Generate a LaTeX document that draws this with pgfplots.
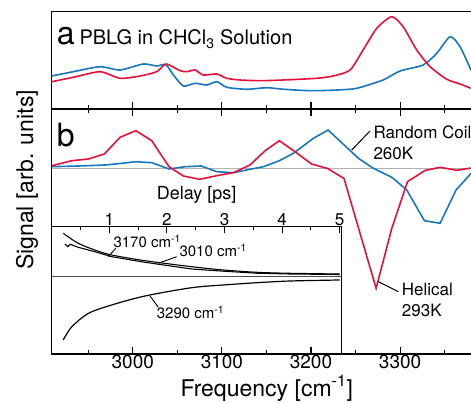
\documentclass[border=0pt]{standalone}
\usepackage{fontspec}
\setmainfont{TeX Gyre Heros}
\usepackage{pgfplots}
\pgfplotsset{compat=1.18}
\definecolor{cred}{RGB}{226,18,58}
\definecolor{cblue}{RGB}{24,119,190}
\newcommand\fs[1]{\fontsize{#1}{#1}\selectfont}

\pgfplotsset{
  panel/.style={scale only axis, width=437.5pt, xmin=2909, xmax=3400, anchor=south west,
    axis line style={line width=1.4pt}, tick style={line width=1.2pt, black},
    major tick length=7pt, minor tick length=4pt, tick align=inside,
    xtick={3000,3100,3200,3300}, minor xtick={2950,3050,...,3350},
    ytick=\empty, /pgf/number format/assume math mode=true,
    /pgf/number format/1000 sep={}, tick label style={font=\fs{19}}},
  spec/.style={line width=1.6pt, no marks},
}

\begin{document}
\begin{tikzpicture}
% panel a: absorption
\begin{axis}[panel, at={(51.7pt,293pt)}, height=97.3pt, ymin=0, ymax=97.3,
  xtick pos=left, xticklabels=\empty]
\addplot[spec, cblue, smooth, tension=0.4] coordinates {
 (2909.1,33) (2933.3,37.3) (2963.3,42.3) (2985.7,39) (3011.9,45) (3026.9,43)
 (3037,44.5) (3045.6,34) (3056.8,23) (3069.9,25.7) (3083.1,24) (3094.3,27.3)
 (3105.5,21.7) (3127.9,19.7) (3150.4,21.3) (3169.7,19.7) (3199,18.3) (3230,19)
 (3251.4,20.7) (3280.9,29) (3300,38) (3325.8,44) (3341.2,55.7) (3356.1,72.3)
 (3367.3,62.3) (3379.7,39) (3392,20)};
\addplot[spec, cred, smooth, tension=0.4] coordinates {
 (2909.1,27.3) (2933.3,31.7) (2963.3,37.3) (2985.7,30.7) (3008.2,33) (3026.9,37.3)
 (3037.4,45) (3053.1,38.3) (3060.6,37.3) (3069.9,39) (3078.9,34) (3094.3,35)
 (3105.5,30.7) (3120.4,29) (3142.9,28.3) (3168.7,29) (3206.5,30.7) (3224.8,33)
 (3243.9,39) (3258.5,59) (3273.8,80.7) (3290.7,92.3) (3303.4,82.3) (3318.7,59)
 (3333.7,42.3) (3352.4,29.7) (3367.3,25) (3379.7,20.7) (3392,17)};
\end{axis}

% inset: kinetics
\begin{axis}[scale only axis, at={(51.7pt,48pt)}, anchor=south west,
  width=290pt, height=127.3pt, xmin=0, xmax=5.035, ymin=-78, ymax=49.3,
  axis line style={line width=1.4pt}, tick style={line width=1.1pt, black},
  major tick length=6pt, minor tick length=3.5pt, tick align=inside,
  xtick={1,2,3,4,5}, minor xtick={0.5,1.5,...,4.5},
  xtick pos=right, xticklabel pos=right, ytick=\empty,
  /pgf/number format/assume math mode=true,
  xticklabel style={font=\fs{17}, inner sep=1pt}]
\addplot[no marks, black!70, line width=0.7pt] coordinates {(0,0) (5.035,0)};
\addplot[no marks, black, line width=1.1pt, smooth, tension=0.5] coordinates {
 (0.20,42.7) (0.46,32.7) (0.75,26) (1.04,21) (1.62,15.3) (2.43,9.3)
 (2.98,6) (3.56,3.7) (4.14,2.7) (5.0,2)};
\addplot[no marks, black, line width=1.1pt] coordinates {
 (0.23,32) (0.28,29.3) (0.32,31.7) (0.46,28.7) (0.75,24.3) (1.04,19.3)
 (1.62,13.7) (2.43,7) (2.98,4.8) (3.56,2.8) (4.14,2) (5.0,1.5)};
\addplot[no marks, black, line width=1.2pt, smooth, tension=0.5] coordinates {
 (0.20,-64) (0.35,-50.7) (0.64,-37.3) (1.04,-29) (1.62,-20) (2.43,-11.7)
 (2.98,-9) (3.56,-6.7) (4.14,-5) (5.0,-4)};
\end{axis}

% panel b: difference spectra
\begin{axis}[panel, at={(51.7pt,48pt)}, height=245pt, ymin=-185.5, ymax=59.5,
  xtick pos=both, xticklabel pos=left, xticklabel style={inner sep=1pt}]
\addplot[no marks, black!30, line width=1.6pt] coordinates {(2909,0) (3400,0)};
\addplot[spec, cblue] coordinates {
 (2909.1,1.8) (2938.9,2.5) (2968.9,3.5) (2987.7,5.2) (3003.4,6.8) (3021.3,5.8)
 (3040.7,-0.5) (3058.7,1.8) (3076.7,2.5) (3094.3,-3.2) (3112.9,-4.2) (3131.6,-0.8)
 (3146.6,1.8) (3164.5,7.8) (3180.2,15.2) (3202.7,30.2) (3219.2,38.5) (3253.2,10.2)
 (3270,0.2) (3290.7,-8.8) (3307.5,-21.5) (3327.3,-52.2) (3344.9,-54.8)
 (3362.8,-21.5) (3379.7,-4.8)};
\addplot[spec, cred] coordinates {
 (2909.1,2.8) (2931.5,7.8) (2950.2,9.5) (2968.1,14.5) (2985.7,31.2) (3003.4,37.8)
 (3021.3,27.8) (3040.7,1.8) (3056.8,-7.5) (3075,-10.8) (3098,-6.5) (3112.9,-4.2)
 (3131.6,3.5) (3148.5,17.8) (3164.5,27.8) (3182.1,16.8) (3200.7,4.5) (3218.6,0)
 (3237.1,-10) (3273.1,-119.8) (3290.7,-59.8) (3308.4,-13) (3328,-2) (3344.9,1.2)
 (3363.6,-1.8) (3379.7,0.5)};
\end{axis}

% labels
\node[anchor=base west, inner sep=0] at (56.7pt,357pt) {\fs{32}a};
\node[anchor=base west, inner sep=0] at (79.3pt,357pt) {\fs{20}PBLG in CHCl\textsubscript{3} Solution};
\node[anchor=base west, inner sep=0] at (56.7pt,255.3pt) {\fs{32}b};
\node[anchor=base west, inner sep=0] at (373.3pt,263.7pt) {\fs{17}Random Coil};
\node[anchor=base west, inner sep=0] at (373.3pt,242pt) {\fs{17}260K};
\node[anchor=base west, inner sep=0] at (401.7pt,107pt) {\fs{17}Helical};
\node[anchor=base west, inner sep=0] at (401.7pt,85.3pt) {\fs{17}293K};
\draw[line width=1pt] (351.7pt,252pt) -- (370pt,271pt);
\draw[line width=1pt] (378.3pt,120.3pt) -- (398.3pt,110.3pt);
\node[anchor=base west, inner sep=0] at (113.3pt,154.7pt) {\fs{15}3170 cm\textsuperscript{-1}};
\node[anchor=base west, inner sep=0] at (179.3pt,145.3pt) {\fs{15}3010 cm\textsuperscript{-1}};
\node[anchor=base west, inner sep=0] at (156.7pt,83.7pt) {\fs{15}3290 cm\textsuperscript{-1}};
\draw[line width=0.9pt] (108.3pt,145.3pt) -- (115.7pt,153.7pt);
\draw[line width=0.9pt] (158.3pt,138.7pt) -- (176.7pt,145.3pt);
\draw[line width=0.9pt] (150pt,106pt) -- (158.3pt,94.7pt);
\node[anchor=base, inner sep=0] at (196.7pt,202pt) {\fs{18}Delay [ps]};
\node[anchor=base, inner sep=0] at (266.7pt,6pt) {\fs{23}Frequency [cm\textsuperscript{-1}]};
\node[anchor=base, inner sep=0, rotate=90] at (33pt,222pt) {\fs{23}Signal [arb. units]};
\pgfresetboundingbox
\path[use as bounding box] (0pt,0pt) rectangle (471pt,402pt);
\end{tikzpicture}
\end{document}
